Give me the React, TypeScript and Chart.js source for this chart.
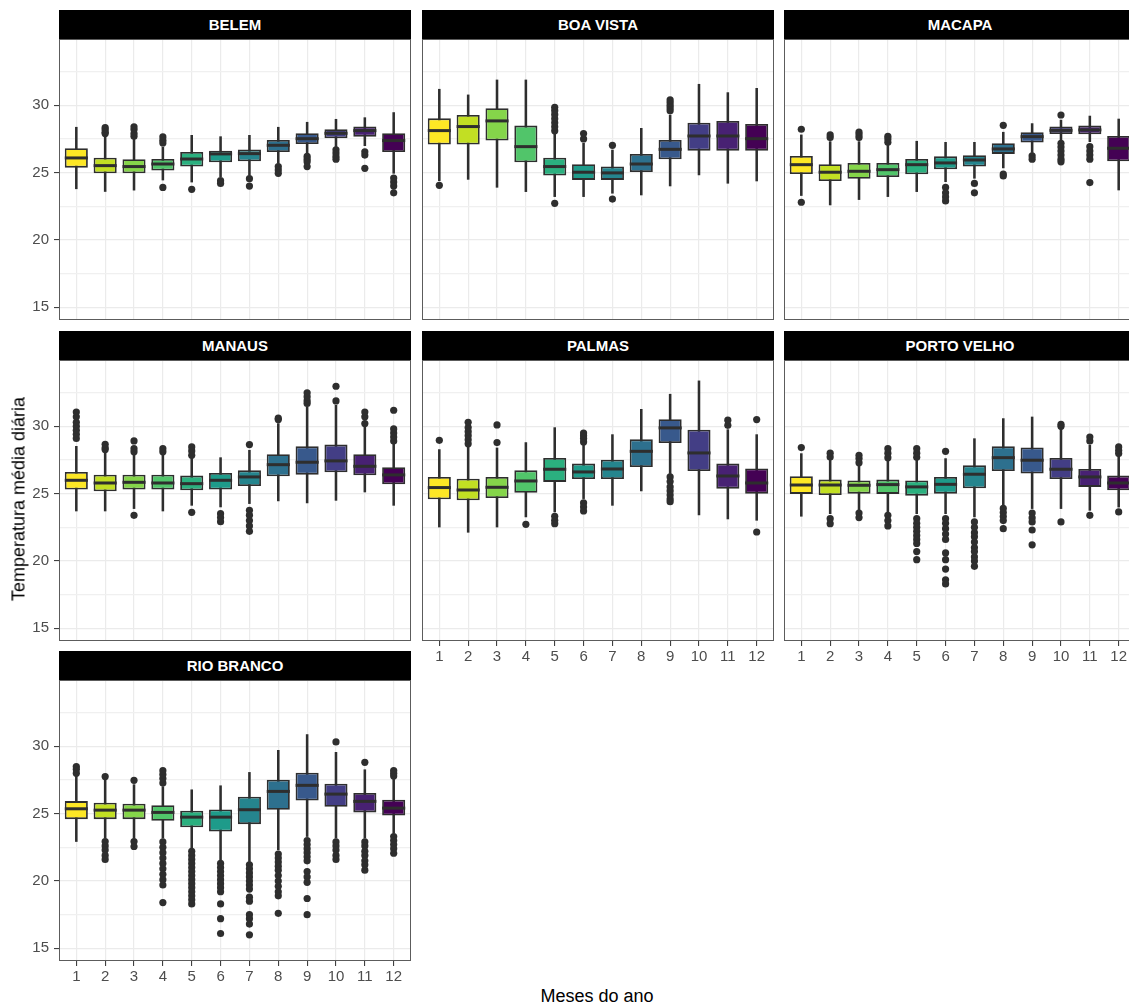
import React, { useEffect, useRef } from "react";
import { Chart, registerables } from "chart.js";

Chart.register(...registerables);
Chart.defaults.font.family = "'Liberation Sans', Arial, sans-serif";

// ---- data -------------------------------------------------------------
const months = [1, 2, 3, 4, 5, 6, 7, 8, 9, 10, 11, 12];
const monthColors = [
  "#FDE725", "#C2DF23", "#85D54A", "#51C56A", "#2BB07F", "#1E9B8A",
  "#25858E", "#2D708E", "#38598C", "#433E85", "#482173", "#440154",
];
const yMajorTicks = [15, 20, 25, 30];
const yMinorTicks = [17.5, 22.5, 27.5, 32.5];
const yLimits = [14.06, 34.92];
const xLimits = [0.4, 12.6];

// one row per month: lower whisker, Q1, median, Q3, upper whisker
const belemStats = [
  [23.8, 25.37, 26.09, 26.81, 28.37],
  [23.6, 24.95, 25.52, 26.11, 27.7],
  [23.7, 24.95, 25.45, 25.99, 27.5],
  [24.45, 25.15, 25.64, 26.01, 26.9],
  [24.3, 25.45, 26.01, 26.53, 27.77],
  [24.7, 25.77, 26.39, 26.63, 27.67],
  [24.8, 25.84, 26.41, 26.71, 27.77],
  [25.7, 26.53, 27.03, 27.43, 28.37],
  [26.45, 27.13, 27.52, 27.92, 28.74],
  [26.93, 27.55, 27.92, 28.22, 28.96],
  [27.0, 27.67, 28.12, 28.42, 29.08],
  [24.95, 26.53, 27.38, 27.92, 29.46],
];
const belemOutliers = [
  [],
  [27.9, 28.0, 28.2, 28.35],
  [27.7, 27.9, 28.2, 28.4],
  [27.2, 27.4, 27.65, 23.9],
  [23.76],
  [24.4, 24.2],
  [24.55, 24.0],
  [25.45, 25.2, 24.95],
  [26.2, 26.0, 25.8, 25.45],
  [26.7, 26.45, 26.2, 26.0],
  [26.55, 26.3, 25.32],
  [24.6, 24.3, 24.0, 23.5],
];

const boaVistaStats = [
  [24.4, 27.08, 28.12, 29.03, 31.19],
  [24.5, 27.08, 28.42, 29.28, 30.77],
  [23.91, 27.38, 28.84, 29.78, 31.88],
  [23.59, 25.77, 26.93, 28.49, 31.88],
  [23.22, 24.78, 25.45, 26.11, 27.9],
  [23.22, 24.46, 25.03, 25.62, 27.18],
  [23.47, 24.46, 24.98, 25.45, 26.68],
  [23.34, 25.05, 25.64, 26.39, 28.29],
  [24.01, 25.99, 26.73, 27.43, 29.28],
  [24.83, 26.63, 27.72, 28.71, 31.56],
  [24.21, 26.63, 27.72, 28.84, 30.94],
  [24.38, 26.63, 27.52, 28.61, 31.26],
];
const boaVistaOutliers = [
  [24.06],
  [],
  [],
  [],
  [28.1, 28.4, 28.7, 29.0, 29.3, 29.6, 29.85, 22.72],
  [27.5, 27.9],
  [27.03, 23.04],
  [],
  [29.6, 29.8, 30.0, 30.2, 30.4],
  [],
  [],
  [],
];

const macapaStats = [
  [23.3, 24.9, 25.59, 26.24, 27.8],
  [22.6, 24.38, 25.03, 25.62, 27.3],
  [23.0, 24.55, 25.1, 25.72, 27.3],
  [23.22, 24.68, 25.22, 25.72, 27.05],
  [23.59, 24.88, 25.59, 26.01, 27.33],
  [24.33, 25.25, 25.72, 26.21, 27.25],
  [24.58, 25.45, 25.94, 26.29, 27.25],
  [25.35, 26.39, 26.76, 27.18, 28.0],
  [26.49, 27.23, 27.67, 28.0, 28.64],
  [27.43, 27.87, 28.14, 28.42, 28.9],
  [27.3, 27.85, 28.17, 28.49, 29.2],
  [23.71, 25.84, 26.81, 27.72, 28.98],
];
const macapaOutliers = [
  [28.22, 22.8],
  [27.6, 27.8],
  [27.6, 27.8, 28.0],
  [27.25, 27.5, 27.7],
  [],
  [23.9, 23.5, 23.2, 22.9],
  [24.2, 23.5],
  [28.51, 24.9, 24.75],
  [26.24, 26.0],
  [29.28, 27.18, 26.9, 26.6, 26.3, 26.0, 25.8],
  [26.93, 26.6, 26.3, 26.0, 24.26],
  [],
];

const manausStats = [
  [23.71, 25.3, 25.99, 26.61, 28.51],
  [23.71, 25.17, 25.79, 26.41, 28.1],
  [23.89, 25.3, 25.84, 26.41, 27.85],
  [23.71, 25.3, 25.79, 26.41, 27.97],
  [24.13, 25.25, 25.74, 26.34, 27.72],
  [24.01, 25.3, 25.99, 26.53, 27.67],
  [24.26, 25.57, 26.24, 26.73, 28.22],
  [24.46, 26.29, 27.15, 27.92, 30.2],
  [24.31, 26.41, 27.33, 28.51, 31.44],
  [24.5, 26.58, 27.43, 28.64, 31.56],
  [25.12, 26.36, 27.03, 27.92, 29.95],
  [24.13, 25.69, 26.39, 26.96, 28.76],
];
const manausOutliers = [
  [29.1, 29.4, 29.7, 30.0, 30.3, 30.7, 31.06],
  [28.27, 28.4, 28.66],
  [28.1, 28.34, 28.91, 23.39],
  [28.1, 28.34],
  [27.85, 28.17, 28.47, 23.61],
  [23.51, 23.22, 22.92],
  [28.64, 23.76, 23.4, 23.0, 22.6, 22.2],
  [30.5, 30.6],
  [31.7, 31.9, 32.2, 32.48],
  [31.88, 32.97],
  [30.2, 30.7, 31.06],
  [28.9, 29.2, 29.5, 29.8, 31.19],
];

const palmasStats = [
  [22.52, 24.58, 25.45, 26.24, 28.27],
  [22.13, 24.5, 25.27, 26.11, 28.47],
  [22.52, 24.68, 25.47, 26.24, 28.39],
  [23.27, 25.07, 25.94, 26.73, 28.79],
  [23.64, 25.87, 26.81, 27.65, 29.9],
  [24.63, 26.09, 26.61, 27.23, 28.59],
  [24.13, 26.09, 26.83, 27.52, 29.38],
  [25.2, 26.98, 28.14, 29.03, 31.26],
  [26.49, 28.76, 29.88, 30.52, 32.38],
  [23.42, 26.68, 28.02, 29.75, 33.37],
  [23.12, 25.37, 26.31, 27.23, 29.75],
  [23.02, 25.0, 25.79, 26.86, 29.38],
];
const palmasOutliers = [
  [28.96],
  [28.7, 29.0, 29.3, 29.6, 29.9, 30.3],
  [28.79, 30.1],
  [22.72],
  [23.32, 23.02, 22.77],
  [28.84, 29.1, 29.3, 29.5, 24.31, 24.0, 23.71],
  [],
  [],
  [26.24, 25.9, 25.5, 25.2, 24.9, 24.6, 24.4],
  [],
  [30.07, 30.45],
  [30.5, 22.15],
];

const portoVelhoStats = [
  [23.32, 24.98, 25.64, 26.29, 27.97],
  [23.51, 24.9, 25.64, 26.04, 27.6],
  [23.76, 25.0, 25.62, 25.97, 27.18],
  [23.64, 24.98, 25.67, 26.04, 27.48],
  [23.51, 24.85, 25.5, 25.97, 27.48],
  [23.51, 25.0, 25.69, 26.24, 27.6],
  [23.27, 25.4, 26.44, 27.1, 29.08],
  [24.13, 26.68, 27.67, 28.51, 30.57],
  [23.89, 26.49, 27.48, 28.42, 30.69],
  [23.89, 26.09, 26.81, 27.65, 29.83],
  [23.76, 25.5, 26.24, 26.83, 28.59],
  [24.0, 25.25, 25.79, 26.34, 27.85],
];
const portoVelhoOutliers = [
  [28.42],
  [27.72, 28.0, 23.14, 22.77],
  [27.3, 27.6, 27.85, 23.56, 23.22],
  [27.67, 28.0, 28.34, 23.39, 23.0, 22.6],
  [27.7, 28.0, 28.34, 23.14, 22.8, 22.5, 22.2, 21.9, 21.6, 21.3, 20.7, 20.1],
  [28.14, 23.14, 22.8, 22.4, 22.0, 21.6, 20.6, 20.1, 19.4, 18.6, 18.3],
  [22.9, 22.5, 22.1, 21.8, 21.4, 21.0, 20.7, 20.3, 20.0, 19.6],
  [23.9, 23.6, 23.3, 23.0, 22.4],
  [23.56, 23.2, 22.9, 22.3, 21.2],
  [30.0, 30.15, 22.9],
  [28.9, 29.2, 23.39],
  [27.97, 28.2, 28.47, 23.64],
];

const rioBrancoStats = [
  [22.93, 24.59, 25.36, 25.93, 27.9],
  [23.18, 24.59, 25.26, 25.81, 27.5],
  [23.18, 24.59, 25.26, 25.73, 27.15],
  [23.18, 24.47, 25.09, 25.63, 27.0],
  [22.43, 23.99, 24.74, 25.21, 26.77],
  [21.56, 23.67, 24.74, 25.31, 27.07],
  [21.44, 24.22, 25.29, 26.25, 28.06],
  [22.31, 25.29, 26.65, 27.52, 29.7],
  [23.3, 25.98, 27.1, 28.04, 30.87],
  [23.18, 25.51, 26.45, 27.22, 29.55],
  [23.18, 25.09, 25.91, 26.53, 28.26],
  [23.55, 24.86, 25.41, 26.03, 27.64],
];
const rioBrancoOutliers = [
  [28.0, 28.3, 28.5],
  [27.75, 22.93, 22.6, 22.3, 21.9, 21.6],
  [27.47, 22.93, 22.56],
  [27.27, 27.6, 27.9, 28.19, 22.9, 22.5, 22.1, 21.7, 21.3, 20.9, 20.5, 20.1, 19.7, 18.4],
  [22.2, 21.9, 21.6, 21.3, 21.0, 20.7, 20.4, 20.1, 19.8, 19.5, 19.2, 18.9, 18.6, 18.3],
  [21.3, 21.0, 20.7, 20.4, 20.1, 19.8, 19.5, 19.2, 18.3, 17.2, 16.1],
  [21.2, 20.9, 20.6, 20.3, 20.0, 19.7, 19.4, 18.8, 18.5, 17.5, 17.2, 16.8, 16.0],
  [22.0, 21.7, 21.4, 21.1, 20.8, 20.4, 20.0, 19.6, 19.2, 18.9, 17.6],
  [23.0, 22.7, 22.4, 22.1, 21.8, 21.5, 20.7, 20.3, 19.9, 18.7, 17.5],
  [30.32, 22.9, 22.6, 22.3, 21.9, 21.6],
  [28.81, 22.9, 22.6, 22.2, 21.9, 21.5, 21.2, 20.8],
  [27.8, 28.0, 28.2, 23.3, 23.0, 22.7, 22.4, 22.06],
];

const cityNames = ["BELEM", "BOA VISTA", "MACAPA", "MANAUS", "PALMAS", "PORTO VELHO", "RIO BRANCO"];
const cityStats = [belemStats, boaVistaStats, macapaStats, manausStats, palmasStats, portoVelhoStats, rioBrancoStats];
const cityOutliers = [belemOutliers, boaVistaOutliers, macapaOutliers, manausOutliers, palmasOutliers, portoVelhoOutliers, rioBrancoOutliers];

// ---- layout -----------------------------------------------------------
const PLOT_W = 352;
const PLOT_H = 281;
const STRIP_H = 29;
const AXIS_W = 50;
const AXIS_H = 30;
const PAD_TOP = 20;
const PAD_RIGHT = 14;
const COL_LEFT = [59, 422, 784];
const ROW_TOP = [10, 331, 651];
const FONT = "'Liberation Sans', Arial, sans-serif";
const INK = "#2e2e2e";

function FacetPanel({ index }: { index: number }) {
  const ref = useRef<HTMLCanvasElement>(null);
  const col = index % 3;
  const row = Math.floor(index / 3);
  const showY = col === 0;
  const showX = index >= 4;

  useEffect(() => {
    const stats = cityStats[index];
    const outliers = cityOutliers[index];
    const medians = stats.map((s) => s[2]);

    // median bars and the panel frame, placed with the chart's own scales
    const boxMarks = {
      id: "boxMarks",
      afterDatasetsDraw(chart: any) {
        const ctx = chart.ctx;
        const meta = chart.getDatasetMeta(1);
        const yScale = chart.scales.y;
        ctx.save();
        ctx.strokeStyle = INK;
        ctx.lineWidth = 3;
        medians.forEach((m, i) => {
          const bar = meta.data[i];
          const py = yScale.getPixelForValue(m);
          ctx.beginPath();
          ctx.moveTo(bar.x - bar.width / 2, py);
          ctx.lineTo(bar.x + bar.width / 2, py);
          ctx.stroke();
        });
        const a = chart.chartArea;
        ctx.strokeStyle = "#5c5c5c";
        ctx.lineWidth = 1;
        ctx.strokeRect(a.left + 0.5, a.top + 0.5, a.right - a.left - 1, a.bottom - a.top - 1);
        ctx.restore();
      },
    };

    const isMajor = (v: number) => yMajorTicks.includes(v);

    const chart = new Chart(ref.current as HTMLCanvasElement, {
      type: "bar",
      data: {
        datasets: [
          {
            type: "scatter",
            data: outliers.flatMap((vals, i) => vals.map((v) => ({ x: months[i], y: v }))),
            pointRadius: 3.6,
            pointBackgroundColor: INK,
            pointBorderWidth: 0,
          } as any,
          {
            type: "bar",
            data: months.map((m, i) => ({ x: m, y: [stats[i][1], stats[i][3]] })),
            backgroundColor: monthColors,
            borderColor: INK,
            borderWidth: 1.8,
            borderSkipped: false,
            grouped: false,
            categoryPercentage: 1,
            barPercentage: 0.8,
          } as any,
          {
            type: "bar",
            data: months.map((m, i) => ({ x: m, y: [stats[i][0], stats[i][4]] })),
            backgroundColor: INK,
            borderWidth: 0,
            grouped: false,
            barThickness: 1.9,
          } as any,
        ],
      },
      options: {
        animation: false,
        responsive: false,
        events: [],
        layout: { padding: { top: PAD_TOP, right: PAD_RIGHT, left: 0, bottom: 0 } },
        plugins: { legend: { display: false }, tooltip: { enabled: false } },
        scales: {
          x: {
            type: "linear",
            min: xLimits[0],
            max: xLimits[1],
            offset: false,
            afterBuildTicks: (s: any) => {
              s.ticks = months.map((v) => ({ value: v }));
            },
            afterFit: (s: any) => {
              s.height = AXIS_H;
            },
            grid: {
              offset: false,
              color: "#EBEBEB",
              lineWidth: 1.2,
              drawTicks: showX,
              tickLength: 5,
              tickColor: INK,
              tickWidth: 1,
            },
            border: { display: false },
            ticks: {
              display: showX,
              autoSkip: false,
              maxRotation: 0,
              padding: 2,
              color: "#4D4D4D",
              font: { size: 15 },
              callback: (v: any) => String(v),
            },
          },
          y: {
            type: "linear",
            min: yLimits[0],
            max: yLimits[1],
            afterBuildTicks: (s: any) => {
              s.ticks = [...yMajorTicks, ...yMinorTicks].sort((a, b) => a - b).map((v) => ({ value: v }));
            },
            afterFit: (s: any) => {
              s.width = AXIS_W;
            },
            grid: {
              color: (c: any) => (c.tick && isMajor(c.tick.value) ? "#EBEBEB" : "#F0F0F0"),
              lineWidth: 1.2,
              drawTicks: showY,
              tickLength: 5,
              tickColor: (c: any) => (c.tick && isMajor(c.tick.value) ? INK : "rgba(0,0,0,0)"),
              tickWidth: 1,
            },
            border: { display: false },
            ticks: {
              display: showY,
              padding: 5,
              color: "#4D4D4D",
              font: { size: 15 },
              callback: (v: any) => (isMajor(v) ? String(v) : ""),
            },
          },
        },
      } as any,
      plugins: [boxMarks],
    });
    return () => chart.destroy();
  }, [index, showX, showY]);

  const plotLeft = COL_LEFT[col];
  const plotTop = ROW_TOP[row] + STRIP_H;
  const cw = AXIS_W + PLOT_W + PAD_RIGHT;
  const ch = PAD_TOP + PLOT_H + AXIS_H;

  return (
    <>
      <div
        style={{
          position: "absolute",
          left: plotLeft,
          top: ROW_TOP[row],
          width: PLOT_W,
          height: STRIP_H,
          background: "#000",
          color: "#fff",
          font: `bold 15px ${FONT}`,
          textAlign: "center",
          lineHeight: `${STRIP_H}px`,
        }}
      >
        {cityNames[index]}
      </div>
      <canvas
        ref={ref}
        width={cw}
        height={ch}
        style={{ position: "absolute", left: plotLeft - AXIS_W, top: plotTop - PAD_TOP, width: cw, height: ch }}
      />
    </>
  );
}

export default function App() {
  return (
    <div
      style={{
        position: "fixed",
        left: 0,
        top: 0,
        width: 1129,
        height: 1004,
        overflow: "hidden",
        background: "#fff",
      }}
    >
      {cityNames.map((_, i) => (
        <FacetPanel key={i} index={i} />
      ))}
      <div
        style={{
          position: "absolute",
          left: 597,
          top: 996,
          transform: "translate(-50%, -50%)",
          font: `18px ${FONT}`,
          color: "#000",
          whiteSpace: "nowrap",
        }}
      >
        Meses do ano
      </div>
      <div
        style={{
          position: "absolute",
          left: 18.5,
          top: 499,
          transform: "translate(-50%, -50%) rotate(-90deg)",
          font: `18px ${FONT}`,
          color: "#000",
          whiteSpace: "nowrap",
        }}
      >
        Temperatura média diária
      </div>
    </div>
  );
}
